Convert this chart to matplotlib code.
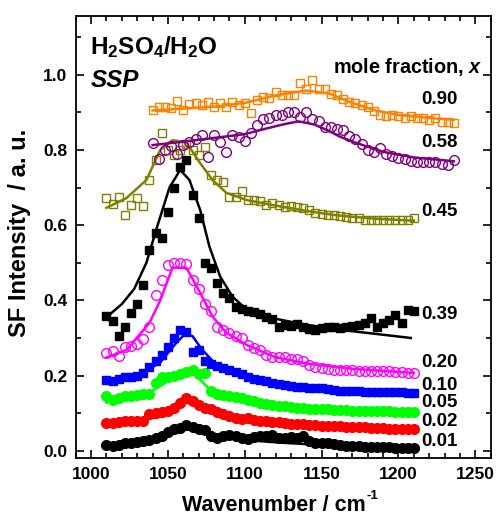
import matplotlib
matplotlib.use("Agg")
import matplotlib.pyplot as plt
from matplotlib.ticker import MultipleLocator

plt.rcParams['font.family'] = ['Liberation Sans', 'DejaVu Sans']
plt.rcParams['font.weight'] = 'bold'
plt.rcParams['mathtext.fontset'] = 'custom'
plt.rcParams['mathtext.rm'] = 'Liberation Sans:bold'
plt.rcParams['mathtext.bf'] = 'Liberation Sans:bold'
plt.rcParams['mathtext.it'] = 'Liberation Sans:bold:italic'

# ---------------- data ----------------
x_low = [1010, 1014, 1018, 1022, 1026, 1030, 1034, 1038, 1042, 1046,
         1050, 1054, 1058, 1062, 1066, 1070, 1074, 1078, 1082, 1086,
         1090, 1094, 1098, 1102, 1106, 1110, 1114, 1118, 1122, 1126,
         1130, 1134, 1138, 1142, 1146, 1150, 1154, 1158, 1162, 1166,
         1170, 1174, 1178, 1182, 1186, 1190, 1194, 1198, 1202, 1206, 1210]
x_high = [1040, 1044, 1048, 1052, 1056, 1060, 1064, 1068, 1072, 1076,
          1080, 1084, 1088, 1092, 1096, 1100, 1104, 1108, 1112, 1116,
          1120, 1124, 1128, 1132, 1136, 1140, 1144, 1148, 1152, 1156,
          1160, 1164, 1168, 1172, 1176, 1180, 1184, 1188, 1192, 1196,
          1200, 1204, 1208, 1212, 1216, 1220, 1224, 1228, 1232, 1236]

y_001 = [.015, .012, .016, .020, .022, .024, .025, .028, .033, .040,
         .050, .057, .060, .068, .062, .058, .055, .038, .035, .040,
         .043, .038, .035, .032, .036, .038, .040, .042, .035, .033,
         .036, .035, .040, .025, .022, .022, .020, .018, .016, .013,
         .012, .012, .011, .010, .010, .009, .009, .008, .008, .007, .007]
y_002 = [.075, .073, .076, .078, .079, .079, .080, .098, .100, .104,
         .106, .115, .128, .140, .133, .122, .115, .110, .104, .098,
         .092, .088, .085, .086, .082, .079, .078, .076, .077, .075,
         .072, .071, .070, .069, .068, .066, .066, .067, .065, .064,
         .064, .063, .062, .061, .060, .060, .059, .058, .058, .057, .057]
y_005 = [.145, .135, .140, .145, .146, .148, .150, .152, .180, .195,
         .196, .198, .205, .210, .214, .205, .208, .160, .152, .148,
         .145, .142, .140, .136, .132, .128, .125, .122, .119, .118,
         .117, .115, .114, .112, .111, .110, .110, .109, .108, .108,
         .107, .107, .106, .106, .105, .105, .105, .104, .104, .104, .103]
y_010 = [.189, .186, .190, .195, .197, .200, .206, .222, .238, .255,
         .275, .300, .322, .315, .262, .268, .238, .232, .225, .220,
         .214, .210, .205, .196, .192, .189, .185, .180, .177, .175,
         .172, .170, .169, .168, .168, .166, .165, .162, .160, .159,
         .158, .158, .157, .157, .156, .156, .155, .155, .155, .154, .153]
y_020 = [.261, .265, .252, .275, .278, .285, .296, .330, .415, .455,
         .495, .500, .500, .498, .455, .430, .390, .372, .330, .320,
         .312, .306, .300, .282, .272, .268, .256, .250, .250, .250,
         .245, .244, .238, .228, .222, .220, .218, .216, .216, .215,
         .214, .213, .213, .212, .212, .211, .211, .210, .209, .208, .207]
y_039 = [.358, .344, .304, .330, .367, .390, .440, .535, .580, .566,
         .635, .700, .755, .774, .681, .620, .500, .485, .446, .420,
         .407, .383, .378, .372, .370, .365, .357, .350, .330, .335,
         .333, .336, .330, .325, .322, .326, .328, .328, .326, .330,
         .332, .335, .340, .354, .330, .340, .349, .362, .341, .375, .372]
y_045 = [.672, .655, .676, .627, .654, .672, .650, .720, .774, .845,
         .800, .787, .800, .817, .800, .787, .809, .734, .720, .715,
         .676, .676, .690, .668, .668, .665, .654, .660, .654, .649,
         .652, .649, .645, .640, .632, .630, .628, .628, .625, .622,
         .620, .618, .614, .614, .615, .614, .613, .614, .614, .615, .619]
y_058 = [.818, .776, .800, .810, .790, .813, .820, .828, .840, .782,
         .840, .820, .795, .840, .835, .825, .845, .866, .882, .885,
         .892, .894, .900, .902, .888, .902, .882, .878, .860, .860,
         .857, .853, .838, .830, .815, .800, .795, .805, .790, .783,
         .778, .775, .770, .769, .769, .769, .768, .762, .760, .772]
y_090 = [.906, .914, .915, .912, .930, .906, .922, .925, .920, .928,
         .914, .925, .914, .928, .920, .925, .898, .933, .940, .937,
         .955, .946, .946, .946, .977, .963, .985, .963, .963, .950,
         .946, .935, .928, .925, .920, .914, .903, .894, .889, .894,
         .889, .886, .889, .886, .884, .879, .886, .874, .874, .871]

# fitted curves
fx_001 = [1010, 1030, 1045, 1055, 1062, 1070, 1080, 1090, 1100, 1115, 1130, 1150, 1170, 1190, 1210]
fy_001 = [.015, .020, .032, .050, .058, .052, .042, .034, .029, .024, .020, .016, .012, .010, .008]
fx_002 = [1010, 1030, 1045, 1055, 1062, 1070, 1080, 1090, 1100, 1120, 1150, 1180, 1210]
fy_002 = [.072, .078, .092, .112, .128, .118, .102, .090, .082, .074, .066, .061, .056]
fx_005 = [1010, 1025, 1038, 1050, 1060, 1066, 1072, 1078, 1090, 1100, 1120, 1150, 1180, 1210]
fy_005 = [.128, .138, .155, .185, .205, .205, .185, .160, .145, .137, .122, .112, .106, .102]
fx_010 = [1010, 1030, 1045, 1055, 1061, 1066, 1072, 1080, 1090, 1100, 1120, 1150, 1180, 1210]
fy_010 = [.185, .198, .235, .285, .310, .305, .270, .235, .212, .198, .180, .166, .159, .154]
fx_020 = [1010, 1023, 1038, 1045, 1053, 1062, 1071, 1079, 1088, 1101, 1119, 1140, 1170, 1210]
fy_020 = [.248, .268, .340, .400, .487, .487, .420, .357, .314, .282, .250, .232, .218, .207]
fx_039 = [1010, 1020, 1028, 1036, 1043, 1051, 1058, 1064, 1071, 1077, 1084, 1092, 1100, 1115, 1140, 1170, 1208]
fy_039 = [.355, .390, .430, .500, .596, .700, .747, .720, .640, .543, .463, .410, .380, .355, .335, .318, .300]
fx_045 = [1010, 1023, 1036, 1045, 1053, 1062, 1071, 1079, 1088, 1101, 1120, 1140, 1160, 1185, 1210]
fy_045 = [.646, .672, .720, .800, .826, .820, .765, .720, .686, .667, .652, .638, .626, .617, .612]
fx_058 = [1040, 1060, 1080, 1100, 1115, 1125, 1135, 1145, 1155, 1162, 1173, 1190, 1210, 1236]
fy_058 = [.813, .822, .832, .842, .858, .868, .876, .868, .850, .835, .818, .795, .780, .770]
fx_090 = [1040, 1060, 1080, 1100, 1120, 1140, 1155, 1170, 1185, 1200, 1220, 1236]
fy_090 = [.905, .910, .915, .925, .945, .958, .950, .925, .905, .893, .885, .880]

labels = ['0.01', '0.02', '0.05', '0.10', '0.20', '0.39', '0.45', '0.58', '0.90']
label_y = [0.025, 0.078, 0.128, 0.173, 0.234, 0.362, 0.636, 0.819, 0.933]

# ---------------- drawing ----------------
fig = plt.figure(figsize=(4.96, 5.16), dpi=100)
ax = fig.add_axes([75.7 / 496, 1 - 458.3 / 516, 415.0 / 496, 442.6 / 516])

series = [
    (x_low, y_001, fx_001, fy_001, 'o', '#000000', True),
    (x_low, y_002, fx_002, fy_002, 'o', '#ff0000', True),
    (x_low, y_005, fx_005, fy_005, 'o', '#00ff00', True),
    (x_low, y_010, fx_010, fy_010, 's', '#0000ff', True),
    (x_low, y_020, fx_020, fy_020, 'o', '#ff00ff', False),
    (x_low, y_039, fx_039, fy_039, 's', '#000000', True),
    (x_low, y_045, fx_045, fy_045, 's', '#808000', False),
    (x_high, y_058, fx_058, fy_058, 'o', '#800080', False),
    (x_high, y_090, fx_090, fy_090, 's', '#ff8000', False),
]
for xs, ys, fxs, fys, mk, col, filled in series:
    if filled:
        ms = 7.0 if mk == 'o' else 6.4
        ax.plot(xs, ys, linestyle='none', marker=mk, ms=ms, mfc=col, mec=col, mew=1.0)
    else:
        ms = 7.0 if mk == 'o' else 6.2
        ax.plot(xs, ys, linestyle='none', marker=mk, ms=ms, mfc='none', mec=col, mew=1.0)
    ax.plot(fxs, fys, '-', color=col, lw=1.8, solid_joinstyle='round')

ax.set_xlim(990, 1260)
ax.set_ylim(-0.02, 1.157)
ax.xaxis.set_major_locator(MultipleLocator(50))
ax.xaxis.set_minor_locator(MultipleLocator(10))
ax.yaxis.set_minor_locator(MultipleLocator(0.1))
ax.set_yticks([0.0, 0.2, 0.4, 0.6, 0.8, 1.0])
ax.set_yticklabels(['0.0', '0.2', '0.4', '0.6', '0.8', '1.0'])
ax.tick_params(which='both', direction='in', top=True, right=True, width=1.2)
ax.tick_params(which='major', length=6, labelsize=12.5, pad=6)
ax.tick_params(which='minor', length=3.5)
for lab in ax.get_xticklabels() + ax.get_yticklabels():
    lab.set_fontweight('bold')
for s in ax.spines.values():
    s.set_linewidth(1.3)

fig.text(20 / 496, 1 - 233 / 516, 'SF Intensity  / a. u.', rotation=90,
         ha='center', va='center', fontsize=17, fontweight='bold')
xl = fig.text(182 / 496, 1 - 511 / 516, 'Wavenumber / cm',
              ha='left', va='baseline', fontsize=15.5, fontweight='bold')
fig.canvas.draw()
bb = xl.get_window_extent(renderer=fig.canvas.get_renderer())
fig.text((bb.x1 + 1) / 496, (bb.y1 - 1) / 516, '-1', ha='left', va='center',
         fontsize=9.5, fontweight='bold')

ax.text(999.3, 1.074, r'$\mathbf{H_2SO_4/H_2O}$', fontsize=17.5, ha='left', va='center')
ax.text(999.6, 0.986, 'SSP', fontsize=17.5, fontweight='bold', style='italic',
        ha='left', va='center')
ax.text(1255, 1.02, r'mole fraction, $\mathit{x}$', fontsize=14.3,
        fontweight='bold', ha='right', va='center')
for lab, ly in zip(labels, label_y):
    ax.text(1215, ly, lab, fontsize=13.5, fontweight='bold', ha='left', va='center')

fig.savefig('out.png', dpi=100)
